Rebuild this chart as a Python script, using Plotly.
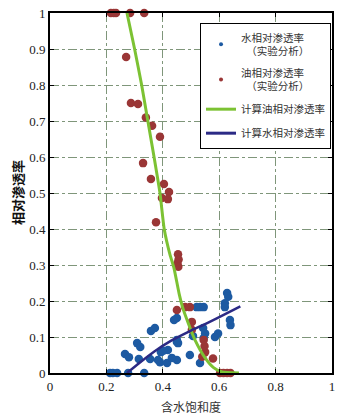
import plotly.graph_objects as go

# Experimental oil relative permeability (red)
sw_oil = [0.216, 0.226, 0.234, 0.284, 0.334, 0.27, 0.287, 0.312, 0.34, 0.362, 0.39,
          0.33, 0.358, 0.404, 0.422, 0.397, 0.418, 0.376, 0.454, 0.456, 0.452, 0.455,
          0.45, 0.479, 0.496, 0.503, 0.503, 0.545, 0.548, 0.55, 0.54, 0.578,
          0.603, 0.615, 0.628, 0.64]
kro_exp = [1, 1, 1, 1, 1, 0.878, 0.75, 0.747, 0.71, 0.687, 0.656,
           0.583, 0.539, 0.525, 0.503, 0.486, 0.483, 0.419, 0.33, 0.315, 0.305, 0.295,
           0.175, 0.183, 0.183, 0.142, 0.12, 0.092, 0.075, 0.058, 0.045, 0.04,
           0, 0, 0, 0]

# Experimental water relative permeability (blue)
sw_water = [0.213, 0.223, 0.238, 0.277, 0.334, 0.266, 0.28, 0.309, 0.32, 0.358, 0.372,
            0.315, 0.355, 0.39, 0.415, 0.393, 0.418, 0.45, 0.45, 0.45, 0.402, 0.432,
            0.45, 0.496, 0.532, 0.52, 0.532, 0.545, 0.628, 0.632, 0.62, 0.62, 0.638,
            0.64, 0.543, 0.55, 0.545, 0.596, 0.585, 0.454, 0.44, 0.507, 0.383]
krw_exp = [0, 0, 0, 0, 0, 0.053, 0.044, 0.083, 0.072, 0.117, 0.125,
           0.039, 0.039, 0.03, 0.028, 0.058, 0.064, 0.086, 0.036, 0.153, 0.062, 0.042,
           0.092, 0.05, 0.028, 0.183, 0.183, 0.183, 0.222, 0.212, 0.194, 0.183, 0.147,
           0.133, 0.125, 0.11, 0.097, 0.11, 0.1, 0.083, 0.147, 0.103, 0.036]

# Calculated oil relative permeability (green curve)
sw_kro_calc = [0.273, 0.30, 0.325, 0.347, 0.369, 0.39, 0.405, 0.425, 0.44, 0.458,
               0.472, 0.49, 0.514, 0.55, 0.58, 0.61, 0.67]
kro_calc = [1.0, 0.9, 0.8, 0.7, 0.6, 0.5, 0.4, 0.33, 0.29, 0.22,
            0.178, 0.139, 0.092, 0.042, 0.015, 0.003, 0.0]

# Calculated water relative permeability (navy curve)
sw_krw_calc = [0.273, 0.32, 0.37, 0.43, 0.5, 0.55, 0.6, 0.675]
krw_calc = [0.0, 0.03, 0.06, 0.09, 0.118, 0.136, 0.155, 0.185]

x_ticks = [0, 0.2, 0.4, 0.6, 0.8, 1]
y_ticks = [0, 0.1, 0.2, 0.3, 0.4, 0.5, 0.6, 0.7, 0.8, 0.9, 1]
x_tick_labels = ["0", "0.2", "0.4", "0.6", "0.8", "1"]
y_tick_labels = ["0", "0.1", "0.2", "0.3", "0.4", "0.5", "0.6", "0.7", "0.8", "0.9", "1"]

names = ["水相对渗透率<br>　（实验分析）", "油相对渗透率<br>　（实验分析）",
         "计算油相对渗透率", "计算水相对渗透率"]

BLUE = "#1d5aa2"
RED = "#9a3636"
GREEN = "#7cc233"
NAVY = "#2b2a85"
SERIF = "Liberation Serif, Times New Roman, serif"

fig = go.Figure()
# data marks (legend entries drawn by the small legend-only traces below)
fig.add_trace(go.Scatter(x=sw_water, y=krw_exp, mode="markers", showlegend=False,
                         marker=dict(color=BLUE, size=8.5), cliponaxis=False))
fig.add_trace(go.Scatter(x=sw_oil, y=kro_exp, mode="markers", showlegend=False,
                         marker=dict(color=RED, size=8.5), cliponaxis=False))
fig.add_trace(go.Scatter(x=sw_kro_calc, y=kro_calc, mode="lines", showlegend=False,
                         line=dict(color=GREEN, width=3, shape="spline", smoothing=0.5)))
fig.add_trace(go.Scatter(x=sw_krw_calc, y=krw_calc, mode="lines", showlegend=False,
                         line=dict(color=NAVY, width=2.5, shape="spline", smoothing=0.5)))

# legend entries
fig.add_trace(go.Scatter(x=[None], y=[None], mode="markers", name=names[0], legendgroup="a",
                         marker=dict(color=BLUE, size=4)))
fig.add_trace(go.Scatter(x=[None], y=[None], mode="markers", name=names[1], legendgroup="b",
                         marker=dict(color=RED, size=4)))
fig.add_trace(go.Scatter(x=[None], y=[None], mode="lines", name=names[2], legendgroup="c",
                         line=dict(color=GREEN, width=3)))
fig.add_trace(go.Scatter(x=[None], y=[None], mode="lines", name=names[3], legendgroup="d",
                         line=dict(color=NAVY, width=3)))

axis_common = dict(
    showline=True, linecolor="black", linewidth=2, mirror="ticks",
    ticks="inside", ticklen=4, tickcolor="black",
    showgrid=True, gridcolor="#7f967a", gridwidth=1, griddash="dashdot",
    zeroline=False, automargin=False, ticklabeloverflow="allow",
    tickfont=dict(family=SERIF, size=13, color="#222"),
)

# the page body has an 8px margin, so the figure is 8px smaller
fig.update_layout(
    width=344, height=411,
    margin=dict(l=42, r=20, t=5, b=46),
    paper_bgcolor="white", plot_bgcolor="white",
    font=dict(family="Noto Sans CJK SC", color="#333"),
    xaxis=dict(range=[0, 1], tickvals=x_ticks, ticktext=x_tick_labels, **axis_common),
    yaxis=dict(range=[0, 1], tickvals=y_ticks, ticktext=y_tick_labels, **axis_common),
    legend=dict(x=0.532, y=0.972, xanchor="left", yanchor="top",
                bgcolor="white", bordercolor="black", borderwidth=1,
                font=dict(size=10.5, color="#333"), itemwidth=30,
                tracegroupgap=5, valign="middle"),
    showlegend=True,
    annotations=[
        dict(text="含水饱和度", xref="paper", yref="paper", x=0.5, y=-0.092,
             xanchor="center", yanchor="middle", showarrow=False,
             font=dict(size=12, color="#333")),
        dict(text="<b>相对渗透率</b>", xref="paper", yref="paper", x=-0.117, y=0.5,
             xanchor="center", yanchor="middle", textangle=-90, showarrow=False,
             font=dict(size=13, color="#111")),
    ],
)

fig.write_html("out.html")
